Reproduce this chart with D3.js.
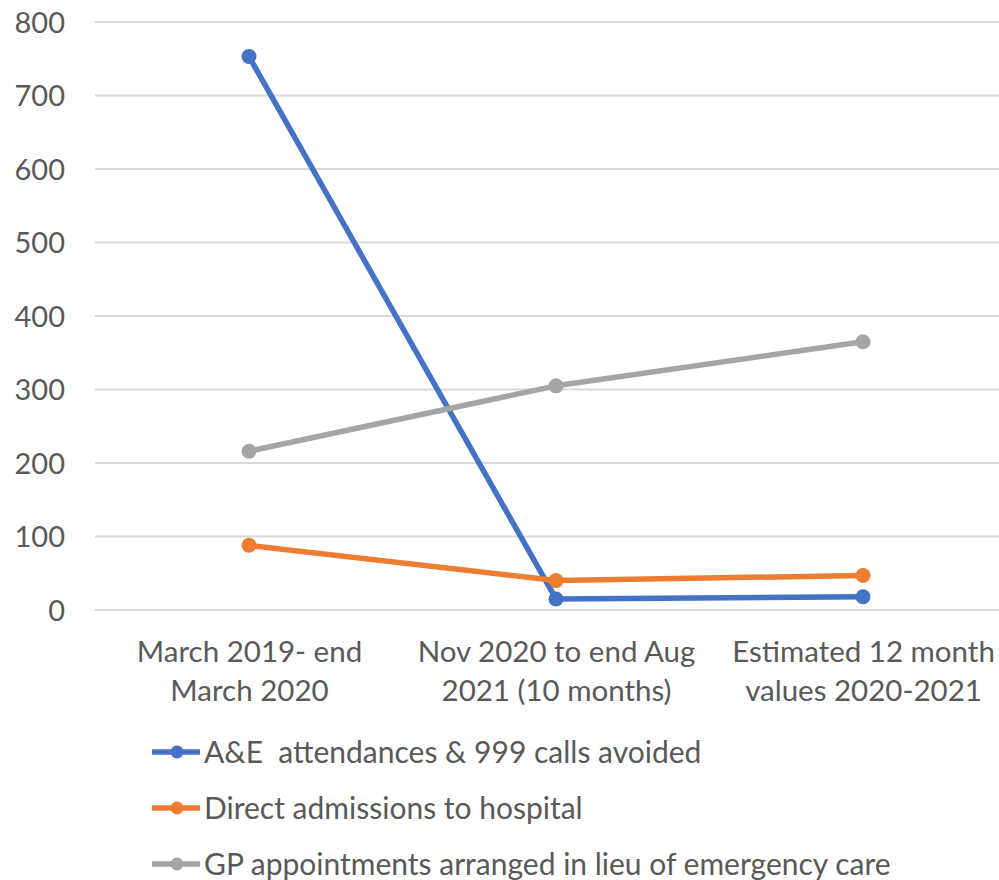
<!DOCTYPE html>
<html><head><meta charset="utf-8">
<script src="https://cdn.jsdelivr.net/npm/d3@7"></script>
<style>body{margin:0;background:#fff}svg{display:block}text{white-space:pre}</style>
</head><body>
<svg id="c" width="999" height="880"></svg>
<script>
const categories = [["March 2019- end","March 2020"],["Nov 2020 to end Aug","2021 (10 months)"],["Estimated 12 month","values 2020-2021"]];
const seriesNames = ["A&E  attendances & 999 calls avoided","Direct admissions to hospital","GP appointments arranged in lieu of emergency care"];
const aeValues = [753, 15, 18];
const admissionValues = [88, 40, 47];
const gpValues = [216, 305, 365];
const yTicks = [0,100,200,300,400,500,600,700,800];
const colors = ["#4472C4","#ED7D31","#A5A5A5"];

const svg = d3.select("#c");
const font = "Lato, 'Open Sans', sans-serif";
const textColor = "#595959";
const x = d3.scalePoint().domain([0,1,2]).range([249, 863]);
const y = d3.scaleLinear().domain([0,800]).range([610, 22]);

svg.append("g").selectAll("line").data(yTicks).join("line")
  .attr("x1",95).attr("x2",999).attr("y1",d=>y(d)).attr("y2",d=>y(d))
  .attr("stroke","#d9d9d9").attr("stroke-width",2);

const yAxis = svg.append("g").attr("transform","translate(65,0)")
  .call(d3.axisLeft(y).tickValues(yTicks).tickSize(0).tickPadding(0));
yAxis.select(".domain").remove();
yAxis.selectAll("text").attr("font-family",font).attr("font-size",29).attr("fill",textColor).attr("dy","0.35em");

const xAxis = svg.append("g").attr("transform","translate(0,610)")
  .call(d3.axisBottom(x).tickSize(0).tickFormat(""));
xAxis.select(".domain").remove();
xAxis.selectAll(".tick").each(function(d){
  const t = d3.select(this).append("text").attr("font-family",font).attr("font-size",29.5)
    .attr("fill",textColor).attr("text-anchor","middle");
  categories[d].forEach((line,i)=>t.append("tspan").attr("x",0).attr("y",52+i*39).text(line));
});

const series = [aeValues, admissionValues, gpValues];
const line = d3.line().x((d,i)=>x(i)).y(d=>y(d));
series.forEach((vals,si)=>{
  const g = svg.append("g");
  g.append("path").datum(vals).attr("d",line).attr("fill","none")
    .attr("stroke",colors[si]).attr("stroke-width",5.5).attr("stroke-linejoin","round");
  g.selectAll("circle").data(vals).join("circle")
    .attr("cx",(d,i)=>x(i)).attr("cy",d=>y(d)).attr("r",7.5).attr("fill",colors[si]);
});

const legend = svg.append("g");
seriesNames.forEach((name,i)=>{
  const ly = 752 + i*56;
  const g = legend.append("g").attr("transform",`translate(0,${ly})`);
  g.append("line").attr("x1",152).attr("x2",200).attr("y1",0).attr("y2",0)
    .attr("stroke",colors[i]).attr("stroke-width",5.5);
  g.append("circle").attr("cx",177).attr("cy",0).attr("r",6.5).attr("fill",colors[i]);
  g.append("text").attr("x",204).attr("y",0).attr("dy","0.35em").attr("font-family",font)
    .attr("font-size",30).attr("fill",textColor).text(name);
});
</script>
</body></html>
